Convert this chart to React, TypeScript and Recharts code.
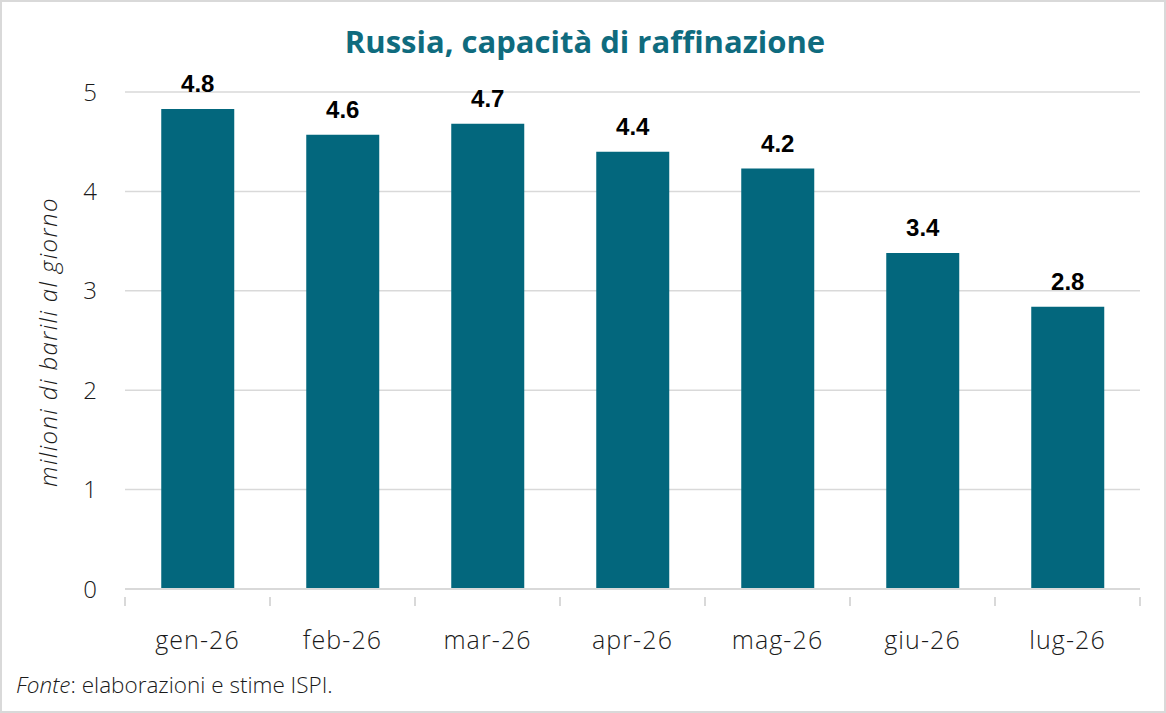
import React from "react";
import {
  BarChart,
  Bar,
  XAxis,
  YAxis,
  CartesianGrid,
  LabelList,
} from "recharts";

const months = ["gen-26", "feb-26", "mar-26", "apr-26", "mag-26", "giu-26", "lug-26"];
const capacity = [4.83, 4.57, 4.68, 4.4, 4.23, 3.38, 2.84];
const yTicks = [0, 1, 2, 3, 4, 5];

const data = months.map((m, i) => ({ month: m, value: capacity[i] }));

const W = 1166;
const H = 713;
const LEFT = 125;
const RIGHT = 26;
const STEP = (W - LEFT - RIGHT) / months.length;
const TEAL = "#03677d";
const FONT = "'Open Sans', sans-serif";

const MonthTick = (props: any) => {
  const { x, y, payload, index } = props;
  const left = x - STEP / 2;
  const last = index === months.length - 1;
  return (
    <g>
      <line x1={left} y1={y} x2={left} y2={y + 9} stroke="#d9d9d9" strokeWidth={2} />
      {last && (
        <line x1={x + STEP / 2} y1={y} x2={x + STEP / 2} y2={y + 9} stroke="#d9d9d9" strokeWidth={2} />
      )}
      <text
        x={x}
        y={y + 43}
        dy="0.35em"
        textAnchor="middle"
        fill="#1a1a1a"
        fontFamily={FONT}
        fontWeight={300}
        fontSize={25}
        letterSpacing={1.1}
      >
        {payload.value}
      </text>
    </g>
  );
};

export default function App() {
  return (
    <div
      style={{
        position: "absolute",
        left: 0,
        top: 0,
        width: W,
        height: H,
        background: "#fff",
        boxSizing: "border-box",
        border: "2px solid #d9d9d9",
      }}
    >
      <div
        style={{
          position: "absolute",
          left: 0,
          top: 18,
          width: W,
          textAlign: "center",
          fontFamily: FONT,
          fontWeight: 700,
          fontSize: 31,
          color: "#0f6b7e",
        }}
      >
        Russia, capacità di raffinazione
      </div>
      <div
        style={{
          position: "absolute",
          left: 14,
          top: 667,
          fontFamily: FONT,
          fontWeight: 300,
          fontSize: 22.5,
          color: "#1a1a1a",
        }}
      >
        <i>Fonte</i>: elaborazioni e stime ISPI.
      </div>
      <div
        style={{
          position: "absolute",
          left: 45,
          top: 340,
          transform: "translate(-50%, -50%) rotate(-90deg)",
          whiteSpace: "nowrap",
          fontFamily: FONT,
          fontWeight: 300,
          fontStyle: "italic",
          fontSize: 24,
          letterSpacing: 1.4,
          color: "#1a1a1a",
        }}
      >
        milioni di barili al giorno
      </div>
      <div style={{ position: "absolute", left: -2, top: -2 }}>
        <BarChart
          width={W}
          height={H}
          data={data}
          margin={{ top: 92, right: RIGHT, bottom: 0, left: 0 }}
          barCategoryGap="25%"
        >
          <CartesianGrid vertical={false} stroke="#d9d9d9" strokeWidth={1.5} />
          <XAxis
            dataKey="month"
            height={124}
            axisLine={{ stroke: "#d9d9d9", strokeWidth: 2 }}
            tickLine={false}
            tick={<MonthTick />}
            interval={0}
          />
          <YAxis
            width={LEFT}
            domain={[0, 5]}
            ticks={yTicks}
            axisLine={false}
            tickLine={false}
            tickSize={0}
            tickMargin={28}
            tick={{ fill: "#1a1a1a", fontSize: 24, fontWeight: 300, fontFamily: FONT }}
          />
          <Bar dataKey="value" fill={TEAL} isAnimationActive={false}>
            <LabelList
              dataKey="value"
              position="top"
              offset={17}
              formatter={(v: any) => Number(v).toFixed(1)}
              style={{
                fill: "#000",
                fontSize: 24,
                fontWeight: 700,
                fontFamily: "'Liberation Sans', Arial, sans-serif",
              }}
            />
          </Bar>
        </BarChart>
      </div>
    </div>
  );
}
